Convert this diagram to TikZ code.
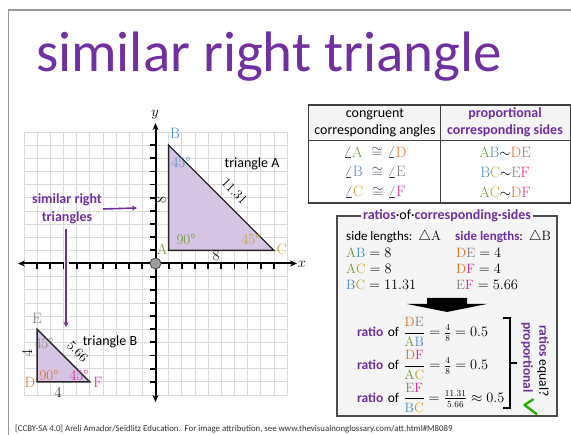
\documentclass[tikz,border=0pt]{standalone}
\usepackage{amsmath}
\usepackage{fontspec}
\setsansfont{Carlito}
\usepackage{xcolor}
\usepackage{tikz}
\usetikzlibrary{arrows.meta,positioning,calc}
\definecolor{vio}{HTML}{7030A0}
\definecolor{cA}{HTML}{6A9A3A}
\definecolor{cB}{HTML}{4A8CCB}
\definecolor{cC}{HTML}{C9A020}
\definecolor{cD}{HTML}{E0701E}
\definecolor{cE}{HTML}{7F7F7F}
\definecolor{cF}{HTML}{E0209A}
\definecolor{cang}{HTML}{404060}
\definecolor{trifill}{HTML}{D5C4E3}
\newcommand{\pA}{\textcolor{cA}{A}}
\newcommand{\pB}{\textcolor{cB}{B}}
\newcommand{\pC}{\textcolor{cC}{C}}
\newcommand{\pD}{\textcolor{cD}{D}}
\newcommand{\pE}{\textcolor{cE}{E}}
\newcommand{\pF}{\textcolor{cF}{F}}
\newcommand{\vw}[1]{\textsf{\bfseries\color{vio}#1}}
\newcommand{\ang}{{\color{cang}$\angle$}}

\begin{document}
\begin{tikzpicture}[
  x=1pt,y=-1pt,
  txt/.style={font=\sffamily\fontsize{14}{17}\selectfont,inner sep=1pt,align=center},
  ser/.style={font=\fontsize{15}{17}\selectfont,inner sep=1pt},
  eq/.style={font=\fontsize{13.5}{16}\selectfont,inner sep=1pt},
  gridline/.style={gray!28,line width=0.7pt},
  axis/.style={line width=2pt,{Stealth[length=7pt,width=6pt]}-{Stealth[length=7pt,width=6pt]}},
  tick/.style={line width=1.8pt},
  tri/.style={fill=trifill,draw=black!85,line width=1.4pt,line join=miter},
  simarr/.style={vio,line width=1.6pt,-{Stealth[length=5pt,width=5pt]}},
  halo/.style={white,line width=5pt},
  thickrule/.style={black!75,line width=1.6pt},
  thinrule/.style={black!75,line width=0.8pt}
]
\useasboundingbox (0,0) rectangle (571,435);

% frame and title
\draw[gray!80,line width=1.6pt] (8.5,435) -- (8.5,10) -- (571,10);
\node[font=\sffamily\fontsize{57}{60}\selectfont,text=vio,anchor=base,inner sep=0pt] (title) at (269,72) {similar right triangle};

% grid and axes
\begin{scope}[shift={(155.5,263.5)},x=13.15pt,y=13.15pt]
  \draw[gridline,step=1] (-10,-10) grid (10,10);
  \coordinate (A) at (1,1);  \coordinate (B) at (1,9);  \coordinate (C) at (9,1);
  \coordinate (D) at (-9,-9); \coordinate (E) at (-9,-5); \coordinate (F) at (-5,-9);
  \draw[tri] (A) -- (B) -- (C) -- cycle;
  \draw[tri] (D) -- (E) -- (F) -- cycle;
  \draw[axis] (-10.46,0) -- (10.76,0);
  \draw[axis] (0,-10.53) -- (0,10.68);
  \foreach \i in {-9,...,-1,1,2,...,9} {
    \draw[tick] (\i,0) -- (\i,-0.45);
    \draw[tick] (0,\i) -- (-0.45,\i);
  }
  \node[circle,fill=gray!75,draw=black!70,line width=0.8pt,minimum size=11pt,inner sep=0pt] (O) at (0,0) {};
\end{scope}
\node[ser] (xlab) at (302,264) {$x$};
\node[ser] (ylab) at (155,115) {$y$};

% triangle A
\node[ser,text=cB] (lB) at (175,133) {B};
\node[ser,text=cB] (aB) at (181,163) {45°};
\node[txt] (nameA) at (252,164) {triangle A};
\node[ser,rotate=-45,font=\fontsize{13.5}{15}\selectfont] (hypA) at (234.5,191.5) {11.31};
\node[ser,rotate=90] (sAB) at (161,200) {8};
\node[ser,text=cA] (aA) at (186,240) {90°};
\node[ser,text=cC] (aC) at (251,240) {45°};
\node[ser,text=cA] (lA) at (162,249) {A};
\node[ser,text=cC] (lC) at (282,249) {C};
\node[ser] (sAC) at (216,256) {8};

% triangle B
\node[ser,text=cE] (lE) at (37,318) {E};
\node[ser,text=cE] (aE) at (44,343) {45°};
\node[ser,rotate=90] (sDE) at (27,353) {4};
\node[ser,rotate=-45,font=\fontsize{13.5}{15}\selectfont] (hypB) at (77.5,351.5) {5.66};
\node[txt] (nameB) at (110,342) {triangle B};
\node[ser,text=cD] (aD) at (49,375) {90°};
\node[ser,text=cF] (aF) at (79,375) {45°};
\node[ser,text=cD] (lD) at (30,382) {D};
\node[ser,text=cF] (lF) at (98,382) {F};
\node[ser] (sDF) at (58,392) {4};

% similar right triangles
\node[txt,font=\sffamily\bfseries\fontsize{14}{18}\selectfont,text=vio] (sim) at (67,209) {similar right\\triangles};
\coordinate (toA) at (137,208);
\coordinate (toB) at (66,327);
\draw[halo] (sim.east) -- (toA);
\draw[simarr] (sim.east) -- (toA);
\draw[halo] (sim.south -| toB) ++(0,4) -- (toB);
\draw[simarr] (sim.south -| toB) ++(0,4) -- (toB);

% table
\fill[gray!8] (308,105) rectangle (570,140);
\draw[thickrule] (308,105) -- (571,105);
\draw[thickrule] (308,203) -- (571,203);
\draw[thinrule] (308,140) -- (571,140);
\draw[thinrule] (308,105) -- (308,203);
\draw[thinrule] (440,105) -- (440,203);
\draw[thinrule] (570,105) -- (570,203);
\node[txt] (h1) at (375,122.5) {congruent\\corresponding angles};
\node[txt,font=\sffamily\bfseries\fontsize{14}{17}\selectfont,text=vio] (h2) at (505,122.5) {proportional\\corresponding sides};
\node[ser] (g1) at (375,152) {\ang\pA\ \ {\color{cang}$\cong$} \ang\pD};
\node[ser] (g2) at (375,172) {\ang\pB\ \ {\color{cang}$\cong$} \ang\pE};
\node[ser] (g3) at (375,192) {\ang\pC\ \ {\color{cang}$\cong$} \ang\pF};
\node[ser] (p1) at (505,152) {\pA\pB$\sim$\pD\pE};
\node[ser] (p2) at (505,172) {\pB\pC$\sim$\pE\pF};
\node[ser] (p3) at (505,192) {\pA\pC$\sim$\pD\pF};

% ratios box
\draw[fill=gray!8,draw=black!70,line width=1.3pt] (337,216) rectangle (557,416);
\node[txt,fill=gray!4,inner xsep=2pt] (rt) at (447,216) {\vw{ratios}·of·\vw{corresponding·sides}};
\node[eq,anchor=west] (sA) at (345,237) {\textsf{\fontsize{13}{16}\selectfont side lengths:} $\triangle$A};
\node[eq,anchor=west] (sB) at (454,237) {\vw{\fontsize{13}{16}\selectfont side lengths}\textsf{\fontsize{13}{16}\selectfont :} $\triangle$B};
\node[eq,anchor=west] (eAB) at (345,253) {$\text{\pA\pB}=8$};
\node[eq,anchor=west] (eAC) at (345,269) {$\text{\pA\pC}=8$};
\node[eq,anchor=west] (eBC) at (345,285) {$\text{\pB\pC}=11.31$};
\node[eq,anchor=west] (eDE) at (455,253) {$\text{\pD\pE}=4$};
\node[eq,anchor=west] (eDF) at (455,269) {$\text{\pD\pF}=4$};
\node[eq,anchor=west] (eEF) at (455,285) {$\text{\pE\pF}=5.66$};
\fill[black] (427,298) -- (467,298) -- (467,304) -- (487,304) -- (447,312) -- (407,304) -- (427,304) -- cycle;
\node[eq,anchor=west] (r1) at (356,332) {\vw{ratio} \textsf{of} $\dfrac{\text{\pD\pE}}{\text{\pA\pB}}=\tfrac{4}{8}=0.5$};
\node[eq,anchor=west] (r2) at (356,365) {\vw{ratio} \textsf{of} $\dfrac{\text{\pD\pF}}{\text{\pA\pC}}=\tfrac{4}{8}=0.5$};
\node[eq,anchor=west] (r3) at (356,398) {\vw{ratio} \textsf{of} $\dfrac{\text{\pE\pF}}{\text{\pB\pC}}=\tfrac{11.31}{5.66}\approx0.5$};
\draw[line width=1.2pt] (503,318) -- (510,318) -- (510,408) -- (503,408);
\draw[line width=1.2pt] (510,363) -- (517,363);
\node[txt,rotate=-90,font=\sffamily\bfseries\fontsize{13.5}{16}\selectfont,text=vio] (prop) at (527,357.5) {proportional};
\node[txt,rotate=-90,font=\sffamily\fontsize{13.5}{16}\selectfont] (req) at (543,361) {\vw{ratios} equal?};
\draw[green!60!black!80!lime,line width=2.4pt,line cap=round,line join=round] (533,399.5) -- (524.5,405) -- (536.5,414);

% footer
\node[anchor=west,font=\sffamily\fontsize{8.8}{10}\selectfont,text=black!80,inner sep=0pt] (foot) at (15,429) {[CCBY-SA 4.0] Areli Amador/Seidlitz Education.\ \ For image attribution, see www.thevisualnonglossary.com/att.html\#M8089};
\end{tikzpicture}
\end{document}
